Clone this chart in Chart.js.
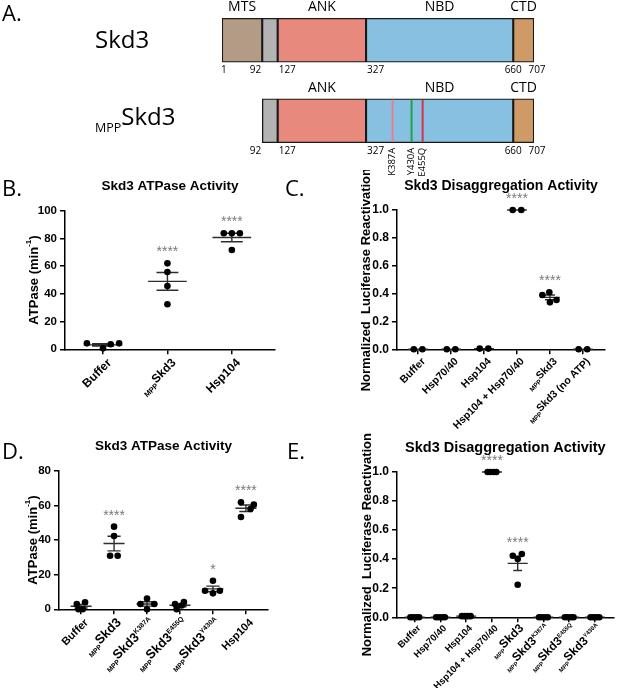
<!DOCTYPE html>
<html>
<head>
<meta charset="utf-8">
<script src="https://cdn.jsdelivr.net/npm/chart.js@4.4.1/dist/chart.umd.min.js"></script>
<style>
  html, body { margin: 0; padding: 0; background: #fff; }
  #fig { position: relative; width: 617px; height: 688px; overflow: hidden; }
  canvas { position: absolute; }
</style>
</head>
<body>
<div id="fig">
  <canvas id="panelA" style="left:0;top:0" width="617" height="215"></canvas>
  <canvas id="panelB" style="left:0;top:170px" width="290" height="240"></canvas>
  <canvas id="panelC" style="left:280px;top:170px" width="337" height="270"></canvas>
  <canvas id="panelD" style="left:0;top:410px" width="290" height="278"></canvas>
  <canvas id="panelE" style="left:280px;top:410px" width="337" height="278"></canvas>
</div>
<script>
const FONT = '"Liberation Sans", Arial, sans-serif';
const SOFT = '"Open Sans", "Noto Sans", sans-serif';

// ---- A: domain map ----
const rowNames = ['Skd3', 'MPPSkd3'];
const rowFirst = [1, 92];
const domainNames = ['MTS', '', 'ANK', 'NBD', 'CTD'];
const domainStart = [1, 92, 127, 327, 660];
const domainEnd = [92, 127, 327, 660, 707];
const domainColors = ['#b39c85', '#b3b3b3', '#e8897d', '#87c0e0', '#cf9a66'];
const rowTicks = [[1, 92, 127, 327, 660, 707], [92, 127, 327, 660, 707]];
const mutations = ['K387A', 'Y430A', 'E455Q'];
const mutationSites = [387, 430, 455];
const mutationColors = ['#e57f8f', '#1ea34a', '#d9304c'];

// ---- B: ATPase ----
const catsB = ['Buffer', '_{MPP}Skd3', 'Hsp104'];
const valsB = [[4.3, 0.7, 3.6, 4.3], [62.0, 55.8, 45.7, 32.5], [83.7, 83.7, 83.7, 71.6]];
const jitB = [[-0.25, 0, 0.12, 0.25], [0, 0, 0, 0], [-0.125, 0, 0.125, 0]];
const starsB = ['', '****', '****'];
const yTicksB = [0, 20, 40, 60, 80, 100];

// ---- C: disaggregation ----
const catsC = ['Buffer', 'Hsp70/40', 'Hsp104', 'Hsp104 + Hsp70/40', '_{MPP}Skd3', '_{MPP}Skd3 (no ATP)'];
const valsC = [[0, 0], [0, 0], [0.005, 0.005], [1, 1], [0.39, 0.41, 0.337, 0.354], [0, 0]];
const jitC = [[-0.13, 0.13], [-0.13, 0.13], [-0.13, 0.13], [-0.13, 0.13], [-0.23, -0.02, 0, 0.2], [-0.13, 0.13]];
const starsC = ['', '', '', '****', '****', ''];
const yTicksC = [0, 0.2, 0.4, 0.6, 0.8, 1.0];

// ---- D: ATPase of mutants ----
const catsD = ['Buffer', '_{MPP}Skd3', '_{MPP}Skd3^{K387A}', '_{MPP}Skd3^{E455Q}', '_{MPP}Skd3^{Y430A}', 'Hsp104'];
const valsD = [[3.1, 0, 0, 4.0], [47.7, 42.3, 30.9, 30.9], [6.2, 3.1, 3.1, 0], [3.0, 0, 2.2, 4.2], [16.5, 10.7, 9.2, 10.7], [61.8, 57.9, 60.4, 53.3]];
const jitD = [[-0.13, -0.08, 0.05, 0.12], [0, 0, -0.12, 0.11], [0, -0.2, 0.22, 0], [-0.15, -0.1, 0.05, 0.12], [0, -0.24, 0, 0.21], [-0.15, 0.14, 0.24, -0.15]];
const starsD = ['', '****', '', '', '*', '****'];
const yTicksD = [0, 20, 40, 60, 80];

// ---- E: disaggregation of mutants ----
const catsE = ['Buffer', 'Hsp70/40', 'Hsp104', 'Hsp104 + Hsp70/40', '_{MPP}Skd3', '_{MPP}Skd3^{K387A}', '_{MPP}Skd3^{E455Q}', '_{MPP}Skd3^{Y430A}'];
const valsE = [[0, 0, 0, 0], [0, 0, 0, 0], [0.008, 0.008, 0.008, 0.008], [1, 1, 1, 1], [0.424, 0.401, 0.436, 0.224], [0, 0, 0, 0], [0, 0, 0, 0], [0, 0, 0, 0]];
const spread4 = [-0.17, -0.06, 0.06, 0.17];
const jitE = [spread4, spread4, spread4, spread4, [-0.19, 0, 0.16, 0], spread4, spread4, spread4];
const starsE = ['', '', '', '****', '****', '', '', ''];
const yTicksE = [0, 0.2, 0.4, 0.6, 0.8, 1.0];

const yTitleATP = 'ATPase (min^{-1})';
const yTitleLuc = 'Normalized  Luciferase Reactivation';

// split "_{sub}main^{sup}" into pieces
function parseLabel(s) {
  const out = [];
  const re = /_\{([^}]*)\}|\^\{([^}]*)\}|([^_^]+)/g;
  let m;
  while ((m = re.exec(s))) {
    if (m[1] !== undefined) out.push({ t: m[1], kind: 'sub' });
    else if (m[2] !== undefined) out.push({ t: m[2], kind: 'sup' });
    else out.push({ t: m[3], kind: 'main' });
  }
  return out;
}

function drawRich(ctx, str, x, y, o) {
  const ps = parseLabel(str);
  const hasSub = ps.some(p => p.kind === 'sub');
  const items = ps.map(p => {
    const sz = p.kind === 'main' ? (hasSub && o.mainSize ? o.mainSize : o.size) : o.size * 0.62;
    const font = `${o.weight || 'bold'} ${sz}px ${o.family || FONT}`;
    ctx.font = font;
    const w = ctx.measureText(p.t).width;
    const dy = p.kind === 'sub' ? o.size * 0.3 : p.kind === 'sup' ? -o.size * 0.5 : 0;
    return { t: p.t, font, w, dy };
  });
  const total = items.reduce((a, b) => a + b.w, 0);
  ctx.save();
  ctx.translate(x, y);
  ctx.rotate(o.angle || 0);
  ctx.fillStyle = o.color || '#000';
  ctx.textAlign = 'left';
  ctx.textBaseline = 'alphabetic';
  let cx = o.align === 'right' ? -total : o.align === 'center' ? -total / 2 : 0;
  const base = o.size * 0.36;
  items.forEach(it => {
    ctx.font = it.font;
    ctx.fillText(it.t, cx, base + it.dy);
    cx += it.w;
  });
  ctx.restore();
}

// ---------- panel A ----------
const domainText = {
  id: 'domainText',
  afterDatasetsDraw(chart) {
    const ctx = chart.ctx;
    const xs = chart.scales.x;
    ctx.save();
    ctx.fillStyle = '#000';
    ctx.font = `22px ${SOFT}`;
    ctx.textBaseline = 'alphabetic';
    ctx.fillText('A.', 2, 21);

    rowNames.forEach((name, r) => {
      const ref = chart.getDatasetMeta(3).data[r];
      const top = ref.y - ref.height / 2;
      const bot = ref.y + ref.height / 2;
      // row name
      ctx.textAlign = 'left';
      if (name.startsWith('MPP')) {
        ctx.font = `12.5px ${SOFT}`;
        ctx.fillText('MPP', 95, ref.y + 11);
        const w = ctx.measureText('MPP').width;
        ctx.font = `24px ${SOFT}`;
        ctx.fillText(name.slice(3), 95 + w, ref.y + 4);
      } else {
        ctx.font = `24px ${SOFT}`;
        ctx.fillText(name, 95, ref.y + 8);
      }
      // domain names above the bar
      ctx.font = `14px ${SOFT}`;
      ctx.textAlign = 'center';
      domainNames.forEach((d, k) => {
        const el = chart.getDatasetMeta(k).data[r];
        const raw = chart.data.datasets[k].data[r];
        if (!d || !raw) return;
        ctx.fillText(d, (el.x + el.base) / 2, top - 7);
      });
      // residue numbers under the bar
      ctx.font = `10px ${SOFT}`;
      rowTicks[r].forEach((v, i) => {
        const px = xs.getPixelForValue(v);
        let align = 'center';
        let dx = 0;
        if (i === 0 && r === 0) { align = 'left'; dx = -1; }
        else if (v === 92) { align = 'right'; dx = -1; }
        else if (v === 127 || v === 327) { align = 'left'; dx = 1; }
        else if (v === 707) { dx = 3; }
        ctx.textAlign = align;
        ctx.fillText(String(v), px + dx, bot + 11);
      });
    });

    // point mutations in the MPP construct
    const nbd = chart.getDatasetMeta(3).data[1];
    const top = nbd.y - nbd.height / 2;
    const bot = nbd.y + nbd.height / 2;
    mutationSites.forEach((site, k) => {
      const px = xs.getPixelForValue(site);
      ctx.strokeStyle = mutationColors[k];
      ctx.lineWidth = 2;
      ctx.beginPath();
      ctx.moveTo(px, top + 1);
      ctx.lineTo(px, bot - 1);
      ctx.stroke();
      ctx.save();
      ctx.translate(px, bot + 5);
      ctx.rotate(-Math.PI / 2);
      ctx.font = `9.5px ${SOFT}`;
      ctx.fillStyle = '#000';
      ctx.textAlign = 'right';
      ctx.textBaseline = 'middle';
      ctx.fillText(mutations[k], 0, 0);
      ctx.restore();
    });
    ctx.restore();
  }
};

new Chart(document.getElementById('panelA'), {
  type: 'bar',
  data: {
    labels: rowNames,
    datasets: domainNames.map((d, k) => ({
      label: d || 'linker',
      data: rowFirst.map(f => (domainStart[k] >= f ? [domainStart[k], domainEnd[k]] : null)),
      backgroundColor: domainColors[k],
      borderColor: '#1a1a1a',
      borderWidth: 1.4,
      borderSkipped: false,
      barThickness: 44,
      grouped: false
    }))
  },
  options: {
    indexAxis: 'y',
    responsive: false,
    animation: false,
    devicePixelRatio: 1,
    events: [],
    layout: { padding: { left: 222, right: 83, top: 0, bottom: 54 } },
    plugins: { legend: { display: false }, tooltip: { enabled: false } },
    scales: {
      x: { type: 'linear', min: 1, max: 707, display: false },
      y: { type: 'category', display: false }
    }
  },
  plugins: [domainText]
});

// ---------- scatter panels ----------
const panelText = {
  id: 'panelText',
  afterDraw(chart, args, o) {
    const ctx = chart.ctx;
    const xs = chart.scales.x;
    const ys = chart.scales.y;
    const a = chart.chartArea;
    ctx.save();
    ctx.fillStyle = '#000';
    ctx.textBaseline = 'middle';
    ctx.textAlign = 'center';
    ctx.font = `bold ${o.titleSize}px ${FONT}`;
    ctx.fillText(o.title, (a.left + a.right) / 2, a.top - 24);
    ctx.textAlign = 'left';
    ctx.font = `22px ${SOFT}`;
    ctx.fillText(o.letter, o.letterX, o.letterY);
    ctx.restore();

    drawRich(ctx, o.yTitle, o.yTitleX, (a.top + a.bottom) / 2, { angle: -Math.PI / 2, align: 'center', size: o.yTitleSize });

    o.cats.forEach((c, i) => {
      drawRich(ctx, c, xs.getPixelForValue(i) + o.catDx, a.bottom + o.catDy, { angle: -Math.PI / 4, align: 'right', size: o.catSize, mainSize: o.catMain });
    });

    ctx.save();
    ctx.fillStyle = '#7a7a7a';
    ctx.font = `14px ${FONT}`;
    ctx.textAlign = 'center';
    ctx.textBaseline = 'middle';
    o.stars.forEach((s, i) => {
      if (!s) return;
      const top = Math.max(...o.vals[i]);
      ctx.fillText(s, xs.getPixelForValue(i), ys.getPixelForValue(top) - 11);
    });
    ctx.restore();
  }
};

function meanSem(vs) {
  const n = vs.length;
  const m = vs.reduce((s, v) => s + v, 0) / n;
  const sd = Math.sqrt(vs.reduce((s, v) => s + (v - m) * (v - m), 0) / (n - 1));
  return [m, sd / Math.sqrt(n)];
}

function makePanel(id, p) {
  const points = [];
  p.vals.forEach((vs, i) => vs.forEach((v, k) => points.push({ x: i + p.jit[i][k], y: v })));
  const bars = [];
  p.vals.forEach((vs, i) => {
    const [m, se] = meanSem(vs);
    bars.push({ x: i - p.mw, y: m }, { x: i + p.mw, y: m }, { x: i, y: null });
    if (se > 0) {
      bars.push({ x: i - p.cw, y: m + se }, { x: i + p.cw, y: m + se }, { x: i, y: null });
      bars.push({ x: i - p.cw, y: m - se }, { x: i + p.cw, y: m - se }, { x: i, y: null });
      bars.push({ x: i, y: m - se }, { x: i, y: m + se }, { x: i, y: null });
    }
  });
  const axisGrid = { display: true, drawOnChartArea: false, drawTicks: true, tickLength: 5, color: '#000', lineWidth: 1.5 };
  const axisBorder = { display: true, color: '#000', width: 1.5 };
  new Chart(document.getElementById(id), {
    type: 'scatter',
    data: {
      datasets: [
        { type: 'scatter', data: points, pointRadius: 3.3, pointHoverRadius: 3.3, backgroundColor: '#000', borderWidth: 0, order: 0, clip: false },
        { type: 'line', data: bars, borderColor: '#2e2e2e', borderWidth: 1.4, pointRadius: 0, spanGaps: false, tension: 0, fill: false, order: 1, clip: false }
      ]
    },
    options: {
      responsive: false,
      animation: false,
      devicePixelRatio: 1,
      events: [],
      layout: { padding: p.pad },
      plugins: {
        legend: { display: false },
        tooltip: { enabled: false },
        panelText: p
      },
      scales: {
        x: {
          type: 'linear', min: p.xMin, max: p.xMax,
          afterBuildTicks: s => { s.ticks = p.cats.map((c, i) => ({ value: i })); },
          afterFit: s => { s.height = p.xH; },
          ticks: { display: false },
          grid: axisGrid, border: axisBorder
        },
        y: {
          type: 'linear', min: p.yMin, max: p.yMax,
          afterBuildTicks: s => { s.ticks = p.yTicks.map(v => ({ value: v })); },
          afterFit: s => { s.width = p.yW; },
          ticks: { color: '#000', padding: 3, font: { family: FONT, size: p.tickSize, weight: 'bold' }, callback: v => v.toFixed(p.dec) },
          grid: axisGrid, border: axisBorder
        }
      }
    },
    plugins: [panelText]
  });
}

makePanel('panelB', {
  cats: catsB, vals: valsB, jit: jitB, stars: starsB, yTicks: yTicksB,
  title: 'Skd3 ATPase Activity', yTitle: yTitleATP, letter: 'B.',
  yMin: 0, yMax: 100, dec: 0, xMin: -0.59, xMax: 2.67,
  yW: 65, xH: 60.7, pad: { left: 0, top: 40.7, right: 15, bottom: 0 },
  tickSize: 11.5, titleSize: 13.5, yTitleSize: 13, yTitleX: 33, catSize: 12, catMain: 12, catDx: 6, catDy: 11,
  letterX: 2, letterY: 20, mw: 0.3, cw: 0.17
});
makePanel('panelC', {
  cats: catsC, vals: valsC, jit: jitC, stars: starsC, yTicks: yTicksC,
  title: 'Skd3 Disaggregation Activity', yTitle: yTitleLuc, letter: 'C.',
  yMin: 0, yMax: 1, dec: 1, xMin: -0.64, xMax: 5.67,
  yW: 117, xH: 90.7, pad: { left: 0, top: 40, right: 12, bottom: 0 },
  tickSize: 12, titleSize: 14, yTitleSize: 13, yTitleX: 85, catSize: 10.5, catMain: 10.5, catDx: 5, catDy: 10,
  letterX: 5, letterY: 20, mw: 0.3, cw: 0.15
});
makePanel('panelD', {
  cats: catsD, vals: valsD, jit: jitD, stars: starsD, yTicks: yTicksD,
  title: 'Skd3 ATPase Activity', yTitle: yTitleATP, letter: 'D.',
  yMin: 0, yMax: 80, dec: 0, xMin: -0.67, xMax: 5.67,
  yW: 59, xH: 78.7, pad: { left: 0, top: 60.7, right: 22, bottom: 0 },
  tickSize: 11.5, titleSize: 13.5, yTitleSize: 13, yTitleX: 32, catSize: 11, catMain: 13, catDx: 5, catDy: 11,
  letterX: 2, letterY: 43, mw: 0.32, cw: 0.2
});
makePanel('panelE', {
  cats: catsE, vals: valsE, jit: jitE, stars: starsE, yTicks: yTicksE,
  title: 'Skd3 Disaggregation Activity', yTitle: yTitleLuc, letter: 'E.',
  yMin: 0, yMax: 1, dec: 1, xMin: -0.69, xMax: 7.73,
  yW: 117, xH: 70.7, pad: { left: 0, top: 62, right: 0, bottom: 0 },
  tickSize: 12, titleSize: 14.5, yTitleSize: 13, yTitleX: 86, catSize: 9.5, catMain: 12, catDx: 4, catDy: 9,
  letterX: 7, letterY: 43, mw: 0.39, cw: 0.17
});
</script>
</body>
</html>
